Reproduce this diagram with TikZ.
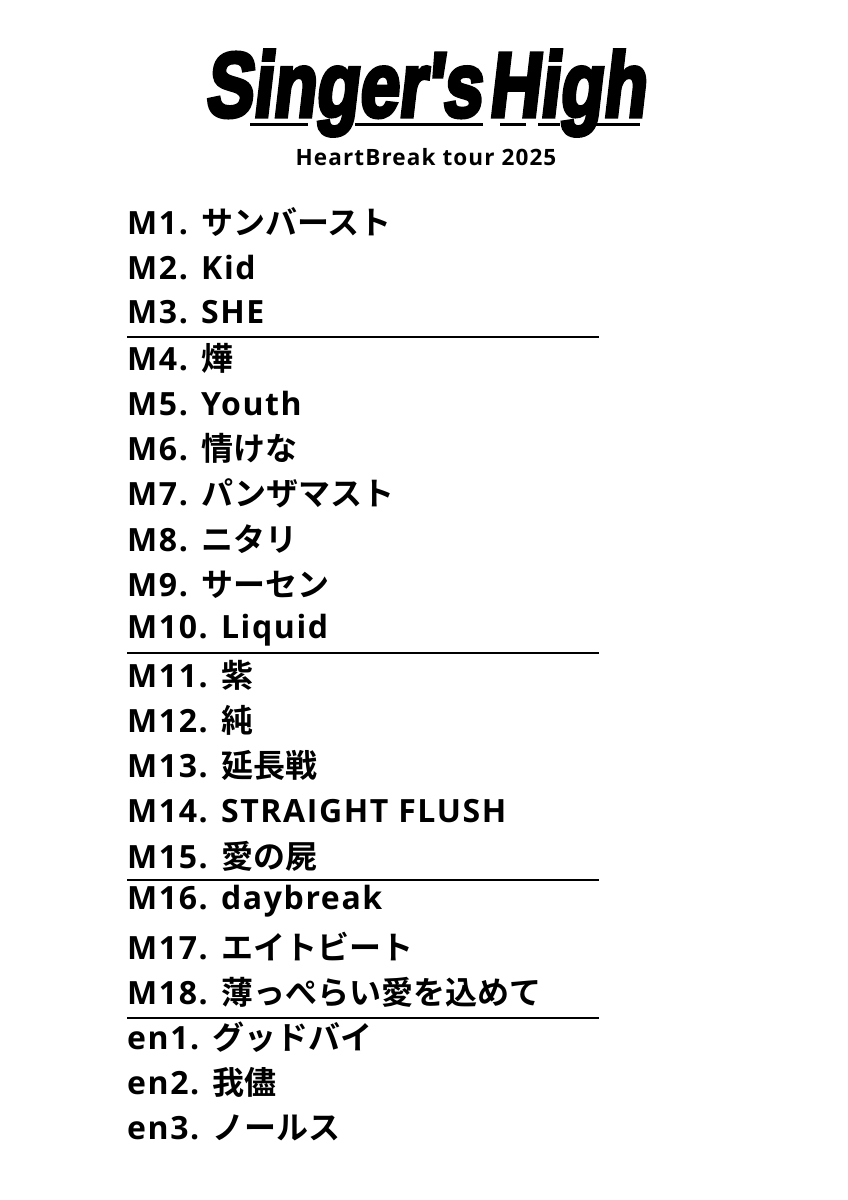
\documentclass[tikz,border=0pt]{standalone}
\usepackage{fontspec}
\setmainfont{Open Sans}[BoldFont=* Bold, BoldFeatures={LetterSpace=5}]
\newfontfamily\jp{Noto Sans CJK JP}[BoldFont=* Bold]
\newfontfamily\logofont{Liberation Sans}[BoldFont=* Bold, BoldFeatures={FakeSlant=0.15,FakeBold=5}]
\begin{document}
\begin{tikzpicture}[x=1pt,y=-1pt,
  item/.style={anchor=west,inner sep=0pt,font=\fontsize{32}{32}\selectfont\bfseries},
  sep/.style={line width=2pt}]
\useasboundingbox (0,0) rectangle (848,1200);
\fill[white] (0,0) rectangle (848,1200);
\node[inner sep=0pt] (logo) at (425,93) {\resizebox{440pt}{66pt}{\logofont\bfseries Singer's\kern0.1em High}};
\foreach \a/\b in {250/308,355/483,500/526,538/560,590/640}
  \draw[line width=3pt] (\a,124) -- (\b,124);
\node[inner sep=0pt,font=\fontsize{22.5}{22.5}\selectfont\bfseries] (sub) at (426,157) {HeartBreak tour 2025};
\foreach \t [count=\i] in {M1. \jp{サンバースト},M2. Kid,M3. SHE,M4. \jp{燁},M5. Youth,M6. \jp{情けな},M7. \jp{パンザマスト},M8. \jp{ニタリ},M9. \jp{サーセン},M10. Liquid,M11. \jp{紫},M12. \jp{純},M13. \jp{延長戦},M14. STRAIGHT FLUSH,M15. \jp{愛の屍},M16. daybreak,M17. \jp{エイトビート},M18. \jp{薄っぺらい愛を込めて},en1. \jp{グッドバイ},en2. \jp{我儘},en3. \jp{ノールス}}
  \node[item] (m\i) at (127,{222+(\i-1)*45.3}) {\t};
\foreach \y [count=\j] in {337,653,880,1018}
  \draw[sep] (127,\y) coordinate (s\j a) -- (599,\y) coordinate (s\j b);
\end{tikzpicture}
\end{document}
